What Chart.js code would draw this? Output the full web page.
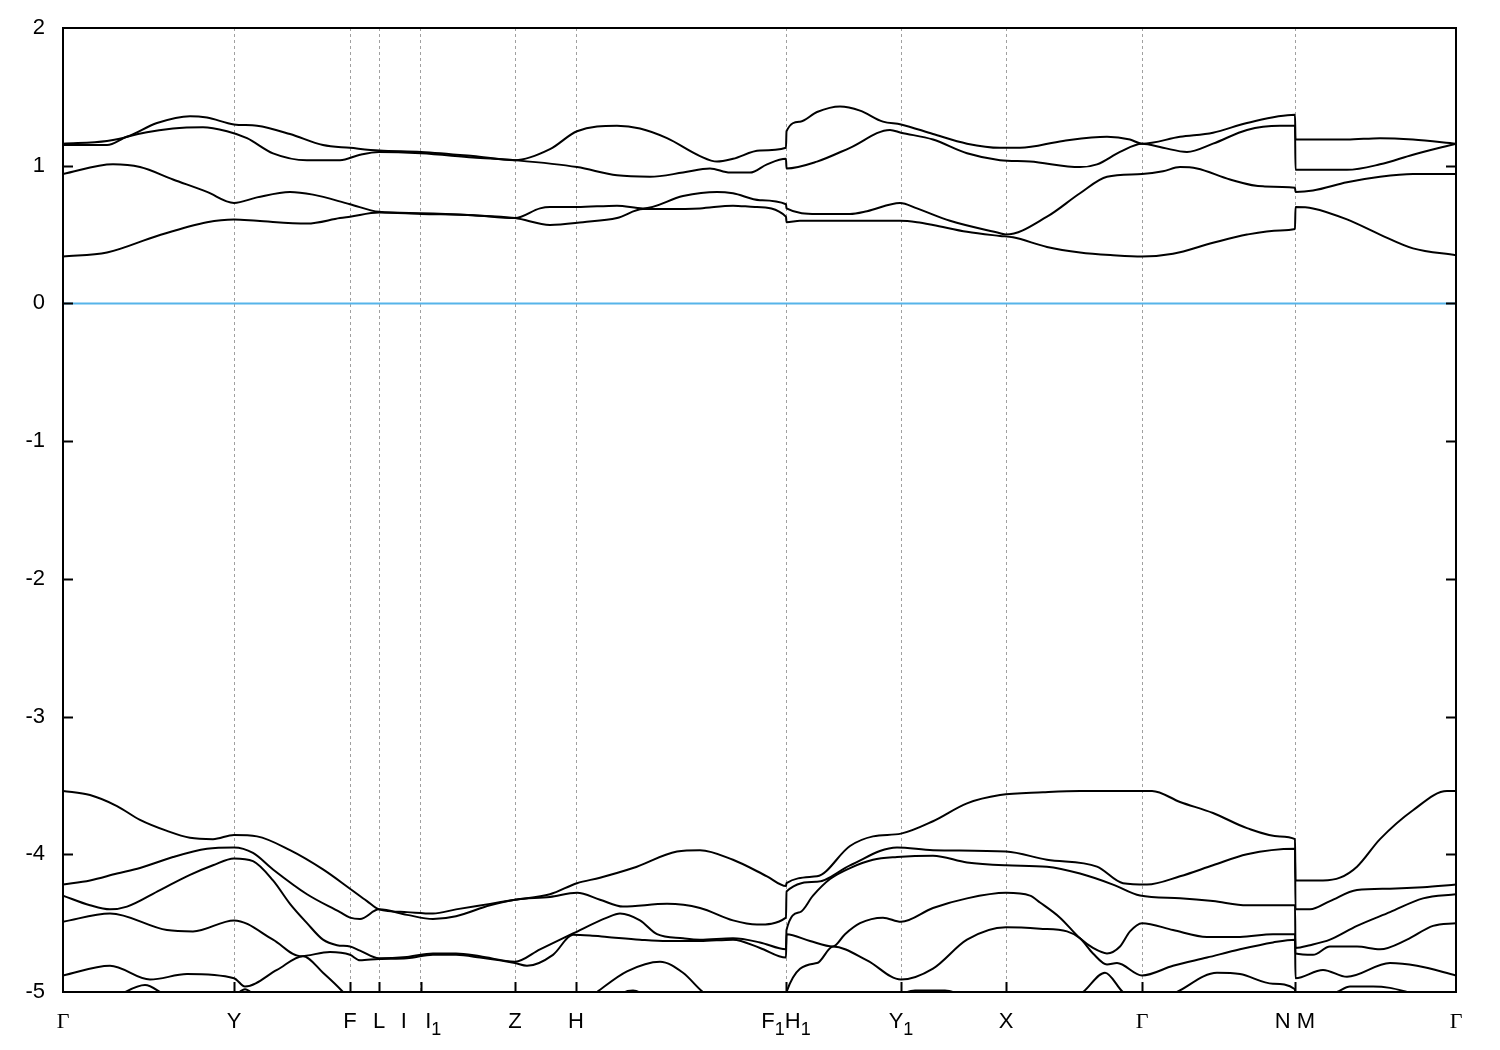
<!DOCTYPE html>
<html>
<head>
<meta charset="utf-8">
<script src="https://cdn.jsdelivr.net/npm/chart.js@4/dist/chart.umd.min.js"></script>
<style>
  html, body { margin: 0; padding: 0; background: #fff; }
  #bands { display: block; }
</style>
</head>
<body>
<canvas id="bands" width="1500" height="1050"></canvas>
<script>
// band structure along the k-path, energies in eV relative to E_F

// high-symmetry points (path distance) and their labels (gnuplot style, _ = subscript)
const kTicks = [0, 171, 287, 316, 358, 452, 513, 723, 838, 943, 1079, 1232, 1393];
const kLabels = ['Γ', 'Y', 'F', 'L', 'I   I_1', 'Z', 'H', 'F_1H_1', 'Y_1', 'X', 'Γ', 'N M', 'Γ'];

// energy axis ticks
const eTicks = [-5, -4, -3, -2, -1, 0, 1, 2];

// fermi level
const fermi = 0;

// conduction bands [k, E]
const cb1 = [[0,0.34],[44,0.37],[94,0.49],[144,0.59],[171,0.61],[194,0.60],[244,0.58],[277,0.62],[287,0.63],[316,0.66],[358,0.65],[410,0.64],[452,0.62],[487,0.57],[520,0.59],[554,0.62],[580,0.685],[604,0.685],[637,0.69],[670,0.71],[692,0.70],[723,0.63],[723.5,0.59],[737,0.60],[770,0.60],[837,0.60],[854,0.59],[870,0.57],[904,0.52],[937,0.49],[950,0.48],[984,0.41],[1017,0.37],[1050,0.35],[1079,0.34],[1110,0.36],[1150,0.44],[1184,0.50],[1217,0.53],[1232,0.54],[1232.5,0.70],[1250,0.69],[1284,0.61],[1317,0.50],[1350,0.40],[1393,0.35]];
const cb2 = [[0,0.94],[50,1.01],[77,0.99],[110,0.90],[144,0.81],[171,0.73],[194,0.77],[227,0.81],[250,0.79],[287,0.72],[316,0.665],[358,0.655],[410,0.64],[452,0.62],[477,0.69],[487,0.70],[514,0.70],[554,0.71],[580,0.69],[620,0.78],[654,0.81],[670,0.80],[697,0.75],[723,0.72],[723.5,0.69],[754,0.65],[787,0.65],[804,0.67],[837,0.73],[854,0.69],[887,0.60],[937,0.51],[943,0.50],[984,0.63],[1017,0.80],[1044,0.92],[1079,0.94],[1100,0.96],[1117,0.99],[1134,0.98],[1167,0.90],[1200,0.85],[1232,0.84],[1232.5,0.81],[1250,0.82],[1284,0.88],[1317,0.92],[1350,0.94],[1393,0.94]];
const cb3 = [[0,1.15],[44,1.15],[64,1.21],[110,1.27],[140,1.28],[164,1.25],[184,1.20],[210,1.09],[244,1.04],[277,1.04],[297,1.08],[316,1.10],[358,1.09],[410,1.06],[452,1.04],[514,0.99],[554,0.93],[587,0.92],[620,0.95],[647,0.98],[667,0.95],[687,0.95],[704,1.01],[723,1.05],[723.5,0.98],[754,1.03],[787,1.13],[827,1.26],[838,1.24],[870,1.19],[904,1.09],[937,1.04],[967,1.03],[1017,0.99],[1034,1.01],[1057,1.10],[1079,1.16],[1100,1.13],[1124,1.10],[1150,1.16],[1184,1.26],[1217,1.29],[1232,1.29],[1232.5,0.97],[1284,0.97],[1317,1.01],[1350,1.08],[1393,1.16]];
const cb4 = [[0,1.16],[44,1.18],[64,1.21],[94,1.31],[127,1.36],[144,1.35],[171,1.30],[194,1.29],[227,1.23],[260,1.15],[287,1.13],[316,1.11],[358,1.10],[410,1.07],[452,1.04],[487,1.12],[514,1.25],[554,1.29],[577,1.27],[604,1.20],[637,1.07],[654,1.03],[670,1.05],[697,1.11],[723,1.13],[723.5,1.25],[737,1.32],[754,1.39],[777,1.43],[797,1.40],[820,1.32],[838,1.30],[870,1.23],[904,1.16],[937,1.13],[957,1.13],[1000,1.18],[1044,1.21],[1067,1.19],[1079,1.16],[1117,1.21],[1150,1.24],[1184,1.31],[1232,1.37],[1232.5,1.19],[1284,1.19],[1317,1.20],[1350,1.19],[1393,1.16]];

// valence bands [k, E]
const vb1 = [[0,-3.54],[27,-3.57],[54,-3.65],[77,-3.75],[104,-3.83],[127,-3.88],[150,-3.89],[171,-3.86],[194,-3.87],[227,-3.97],[260,-4.11],[287,-4.25],[304,-4.34],[316,-4.40],[344,-4.42],[370,-4.43],[393,-4.40],[427,-4.36],[452,-4.33],[487,-4.29],[514,-4.21],[537,-4.17],[570,-4.10],[614,-3.98],[637,-3.97],[670,-4.04],[704,-4.16],[723,-4.23],[723.5,-4.21],[754,-4.16],[787,-3.94],[810,-3.87],[838,-3.85],[870,-3.76],[904,-3.63],[937,-3.57],[980,-3.55],[1017,-3.54],[1089,-3.54],[1117,-3.62],[1150,-3.70],[1184,-3.81],[1217,-3.87],[1232,-3.89],[1232.5,-4.19],[1260,-4.19],[1277,-4.17],[1294,-4.09],[1317,-3.89],[1350,-3.68],[1384,-3.54],[1393,-3.54]];
const vb2 = [[0,-4.22],[27,-4.19],[54,-4.14],[77,-4.10],[110,-4.02],[144,-3.96],[171,-3.95],[190,-3.99],[210,-4.11],[244,-4.29],[277,-4.42],[287,-4.46],[297,-4.47],[316,-4.40],[344,-4.44],[370,-4.47],[393,-4.45],[427,-4.37],[452,-4.33],[487,-4.31],[514,-4.28],[537,-4.33],[560,-4.38],[604,-4.36],[637,-4.39],[670,-4.48],[694,-4.51],[723,-4.46],[723.5,-4.27],[754,-4.20],[787,-4.08],[834,-3.95],[870,-3.97],[943,-3.98],[984,-4.04],[1034,-4.09],[1060,-4.21],[1084,-4.22],[1117,-4.16],[1150,-4.08],[1184,-4.00],[1232,-3.96],[1232.5,-4.40],[1247,-4.40],[1267,-4.34],[1294,-4.26],[1327,-4.25],[1360,-4.24],[1393,-4.22]];
const vb3 = [[0,-4.30],[27,-4.37],[47,-4.40],[64,-4.38],[97,-4.26],[127,-4.15],[150,-4.08],[171,-4.03],[190,-4.05],[210,-4.19],[227,-4.36],[244,-4.50],[260,-4.62],[274,-4.66],[287,-4.67],[297,-4.70],[316,-4.755],[344,-4.745],[370,-4.72],[393,-4.72],[417,-4.74],[452,-4.78],[477,-4.69],[510,-4.575],[544,-4.46],[557,-4.43],[577,-4.48],[594,-4.58],[620,-4.61],[637,-4.62],[670,-4.61],[697,-4.64],[723,-4.69],[723.5,-4.55],[737,-4.42],[750,-4.30],[767,-4.18],[787,-4.10],[810,-4.04],[834,-4.02],[870,-4.01],[904,-4.06],[943,-4.08],[984,-4.09],[1017,-4.14],[1050,-4.22],[1077,-4.30],[1117,-4.32],[1150,-4.34],[1184,-4.37],[1232,-4.37],[1232.5,-4.68],[1247,-4.66],[1267,-4.62],[1294,-4.52],[1327,-4.42],[1360,-4.32],[1393,-4.29]];
const vb4 = [[0,-4.49],[47,-4.43],[104,-4.55],[130,-4.56],[171,-4.48],[210,-4.62],[237,-4.74],[267,-4.71],[287,-4.73],[297,-4.77],[316,-4.76],[344,-4.755],[370,-4.73],[393,-4.73],[417,-4.75],[452,-4.79],[464,-4.81],[490,-4.73],[510,-4.585],[527,-4.59],[544,-4.60],[577,-4.62],[604,-4.63],[637,-4.63],[670,-4.62],[697,-4.68],[723,-4.75],[723.5,-4.58],[747,-4.63],[770,-4.67],[782,-4.58],[797,-4.50],[820,-4.46],[838,-4.49],[870,-4.39],[904,-4.32],[943,-4.28],[967,-4.30],[977,-4.35],[997,-4.46],[1017,-4.61],[1030,-4.68],[1044,-4.72],[1057,-4.67],[1067,-4.56],[1079,-4.50],[1110,-4.55],[1144,-4.60],[1177,-4.60],[1210,-4.58],[1232,-4.58],[1232.5,-4.72],[1250,-4.73],[1267,-4.67],[1294,-4.67],[1317,-4.69],[1344,-4.62],[1370,-4.52],[1393,-4.50]];
const vb5 = [[0,-4.88],[47,-4.81],[87,-4.91],[124,-4.87],[171,-4.90],[182,-4.96],[214,-4.84],[240,-4.74],[260,-4.86],[280,-5.0],[297,-5.15],[316,-5.25],[360,-5.35],[452,-5.3],[497,-5.2],[534,-5.0],[564,-4.85],[597,-4.78],[620,-4.86],[640,-5.0],[677,-5.15],[723,-5.1],[723.5,-5.0],[754,-4.79],[770,-4.67],[804,-4.77],[838,-4.91],[870,-4.83],[904,-4.62],[943,-4.53],[977,-4.54],[1004,-4.56],[1017,-4.61],[1030,-4.72],[1044,-4.80],[1054,-4.79],[1079,-4.88],[1110,-4.81],[1144,-4.75],[1177,-4.69],[1210,-4.64],[1232,-4.62],[1232.5,-4.90],[1260,-4.84],[1284,-4.89],[1327,-4.79],[1354,-4.81],[1393,-4.88]];
const vb6 = [[0,-5.3],[37,-5.1],[57,-5.02],[82,-4.95],[102,-5.02],[137,-5.1],[171,-5.03],[182,-4.98],[195,-5.05],[237,-5.3],[452,-5.4],[537,-5.2],[557,-5.02],[570,-4.99],[582,-5.02],[637,-5.2],[723,-5.3],[723.5,-5.15],[807,-5.1],[837,-5.02],[852,-4.99],[882,-4.99],[897,-5.02],[937,-5.15],[997,-5.1],[1020,-5.0],[1042,-4.86],[1060,-5.0],[1087,-5.1],[1114,-5.0],[1154,-4.86],[1177,-4.87],[1210,-4.94],[1232,-4.98],[1232.5,-5.1],[1274,-5.0],[1287,-4.96],[1310,-4.96],[1327,-4.97],[1344,-5.0],[1393,-5.1]];

const bands = [cb1, cb2, cb3, cb4, vb1, vb2, vb3, vb4, vb5, vb6];

const BAND_COLOR = '#000000';
const FERMI_COLOR = '#56b4e9';
const FONT = "'Liberation Sans', Arial, sans-serif";
const SYMBOL_FONT = "'Liberation Serif', 'Times New Roman', serif";

function toXY(arr) {
    return arr.map(p => ({ x: p[0], y: p[1] }));
}

const datasets = [{
    label: 'E_F',
    data: [{ x: kTicks[0], y: fermi }, { x: kTicks[kTicks.length - 1], y: fermi }],
    borderColor: FERMI_COLOR,
    borderWidth: 2,
    pointRadius: 0,
    clip: 0,
}];

bands.forEach(function (b, i) {
    datasets.push({
        label: 'band ' + (i + 1),
        data: toXY(b),
        borderColor: BAND_COLOR,
        borderWidth: 2,
        pointRadius: 0,
        cubicInterpolationMode: 'monotone',
        clip: 0,
    });
});

// split "F_1H_1" into runs of normal text and subscripts
function labelRuns(text) {
    const runs = [];
    let buf = '';
    for (let i = 0; i < text.length; i++) {
        if (text[i] === '_' && i + 1 < text.length) {
            if (buf) runs.push({ t: buf, sub: false });
            buf = '';
            runs.push({ t: text[i + 1], sub: true });
            i++;
        } else {
            buf += text[i];
        }
    }
    if (buf) runs.push({ t: buf, sub: false });
    return runs;
}

function runFont(r) {
    if (r.sub) return '18px ' + FONT;
    if (r.t === 'Γ') return '22px ' + SYMBOL_FONT;
    return '22px ' + FONT;
}

// gnuplot-like frame, inward tick marks and k-point labels
const framePlugin = {
    id: 'frame',
    afterDraw(chart) {
        const ctx = chart.ctx;
        const a = chart.chartArea;
        const xs = chart.scales.x;
        const ys = chart.scales.y;
        ctx.save();
        ctx.strokeStyle = '#000';
        ctx.lineWidth = 2;
        ctx.strokeRect(a.left, a.top, a.right - a.left, a.bottom - a.top);
        ctx.beginPath();
        eTicks.slice(1, -1).forEach(function (v) {
            const y = Math.round(ys.getPixelForValue(v)) + 0.5;
            ctx.moveTo(a.left, y);
            ctx.lineTo(a.left + 10, y);
            ctx.moveTo(a.right, y);
            ctx.lineTo(a.right - 10, y);
        });
        kTicks.slice(1, -1).forEach(function (v) {
            const x = Math.round(xs.getPixelForValue(v)) + 0.5;
            ctx.moveTo(x, a.bottom);
            ctx.lineTo(x, a.bottom - 10);
        });
        ctx.stroke();

        // k labels
        ctx.fillStyle = '#000';
        ctx.textBaseline = 'alphabetic';
        ctx.textAlign = 'left';
        const base = a.bottom + 36;
        kTicks.forEach(function (v, i) {
            const runs = labelRuns(kLabels[i]);
            let w = 0;
            runs.forEach(function (r) {
                ctx.font = runFont(r);
                r.w = ctx.measureText(r.t).width;
                w += r.w;
            });
            let x = xs.getPixelForValue(v) - w / 2;
            runs.forEach(function (r) {
                ctx.font = runFont(r);
                ctx.fillText(r.t, x, r.sub ? base + 7 : base);
                x += r.w;
            });
        });
        ctx.restore();
    }
};

new Chart(document.getElementById('bands'), {
    type: 'line',
    data: { datasets: datasets },
    options: {
        responsive: false,
        animation: false,
        layout: { padding: { top: 28, right: 44, left: 0, bottom: 0 } },
        plugins: {
            legend: { display: false },
            tooltip: { enabled: false },
        },
        scales: {
            x: {
                type: 'linear',
                min: kTicks[0],
                max: kTicks[kTicks.length - 1],
                afterBuildTicks: function (scale) {
                    scale.ticks = kTicks.map(v => ({ value: v }));
                },
                afterFit: function (scale) {
                    scale.height = 58;
                    scale.paddingLeft = 0;
                    scale.paddingRight = 0;
                },
                ticks: { display: false, autoSkip: false },
                grid: {
                    drawTicks: false,
                    color: '#a0a0a0',
                    lineWidth: 1,
                },
                border: { display: false, dash: [3, 3] },
            },
            y: {
                min: eTicks[0],
                max: eTicks[eTicks.length - 1],
                afterBuildTicks: function (scale) {
                    scale.ticks = eTicks.map(v => ({ value: v }));
                },
                afterFit: function (scale) {
                    scale.width = 63;
                    scale.paddingTop = 0;
                    scale.paddingBottom = 0;
                },
                ticks: {
                    padding: 18,
                    color: '#000',
                    font: { family: FONT, size: 22 },
                },
                grid: { display: false, drawTicks: false },
                border: { display: false },
            }
        }
    },
    plugins: [framePlugin]
});
</script>
</body>
</html>
